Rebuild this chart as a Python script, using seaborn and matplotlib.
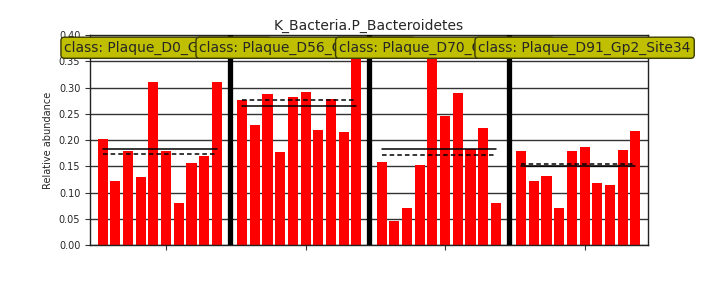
import numpy as np
import pandas as pd
import matplotlib
matplotlib.use("Agg")
import matplotlib.pyplot as plt
import seaborn as sns

title = "K_Bacteria.P_Bacteroidetes"
classes = ["Plaque_D0_Gp2_Site34", "Plaque_D56_Gp2_Site34",
           "Plaque_D70_Gp2_Site34", "Plaque_D91_Gp2_Site34"]
d0 = [0.203, 0.122, 0.179, 0.129, 0.310, 0.179, 0.080, 0.156, 0.169, 0.310]
d56 = [0.276, 0.228, 0.287, 0.177, 0.283, 0.291, 0.219, 0.278, 0.215, 0.392]
d70 = [0.158, 0.045, 0.070, 0.152, 0.390, 0.245, 0.289, 0.184, 0.224, 0.080]
d91 = [0.179, 0.123, 0.131, 0.070, 0.179, 0.186, 0.118, 0.114, 0.181, 0.217]
yticks = [0.00, 0.05, 0.10, 0.15, 0.20, 0.25, 0.30, 0.35, 0.40]

groups = [d0, d56, d70, d91]
n = len(d0)
step = n + 1

rows = []
for g, vals in enumerate(groups):
    for i, v in enumerate(vals):
        rows.append({"pos": g * step + i, "value": v, "cls": classes[g]})
df = pd.DataFrame(rows)

sns.set_style("white")
fig = plt.figure(figsize=(7.2, 2.88), dpi=100)
ax = fig.add_axes([0.125, 0.149, 0.775, 0.729])

sns.barplot(data=df, x="pos", y="value", native_scale=True, color="red",
            width=0.8, saturation=1, ax=ax, zorder=2, errorbar=None,
            linewidth=0, edgecolor="none")

ax.set_xlim(-1, len(groups) * step - 1)
ax.set_ylim(0, 0.40)
ax.set_yticks(yticks)
ax.set_yticklabels([f"{t:.2f}" for t in yticks], fontsize=7)
ax.yaxis.grid(True, color="#333333", linewidth=1.0, zorder=0)
ax.set_axisbelow(True)

centers = [g * step + n // 2 for g in range(len(groups))]
ax.set_xticks(centers)
ax.set_xticklabels([""] * len(centers))
ax.tick_params(axis="both", direction="out", length=3.5, width=0.8, color="#333333")
ax.tick_params(axis="y", left=True)
ax.tick_params(axis="x", bottom=True)

for g in range(1, len(groups)):
    ax.axvline(g * step - 1, color="black", linewidth=3.8, zorder=3)

for g, vals in enumerate(groups):
    x0 = g * step
    x1 = g * step + n - 1
    ax.plot([x0, x1], [np.mean(vals)] * 2, color="black", linewidth=1.1, zorder=4)
    ax.plot([x0, x1], [np.median(vals)] * 2, color="black", linewidth=1.1,
            linestyle=(0, (3, 2)), zorder=4)

for g, c in enumerate(classes):
    ax.text(centers[g], 0.376, f"class: {c}", ha="center", va="center",
            fontsize=10, zorder=5 + g, clip_on=False,
            bbox=dict(boxstyle="round,pad=0.25", facecolor="y",
                      edgecolor="#3a3a00", linewidth=1))

for s in ax.spines.values():
    s.set_color("#222222")
    s.set_linewidth(1.0)

ax.set_xlabel("")
ax.set_ylabel("Relative abundance", fontsize=7)
ax.set_title(title, fontsize=10, pad=4)

fig.savefig("out.png", dpi=100)
